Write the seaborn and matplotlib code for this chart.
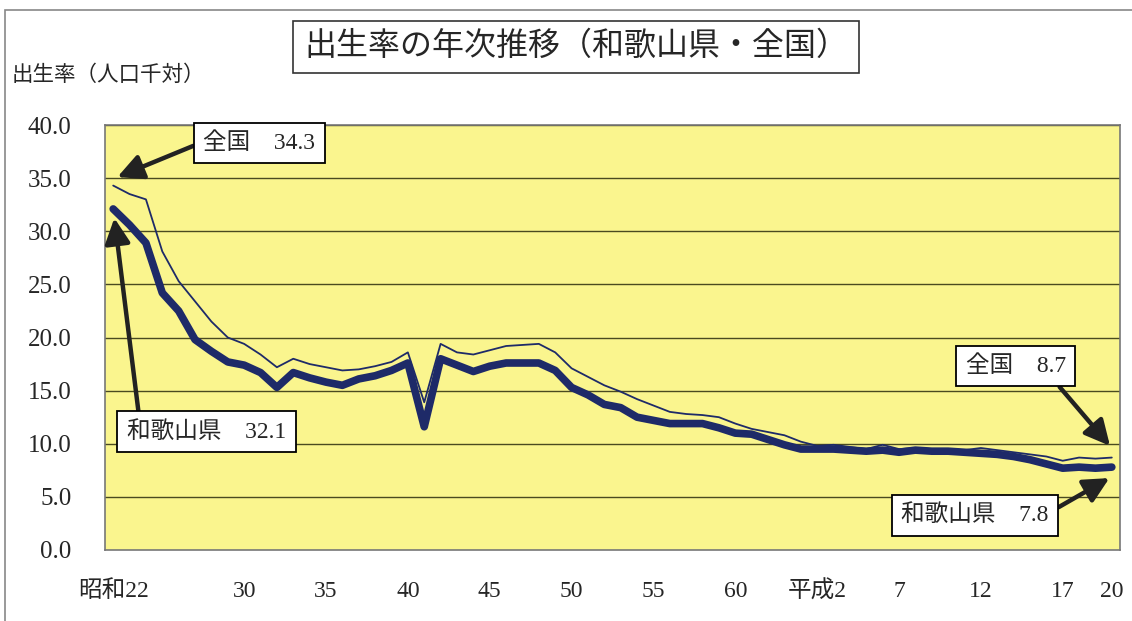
import matplotlib
matplotlib.use("Agg")
import matplotlib.pyplot as plt
import seaborn as sns
import pandas as pd
from matplotlib.patches import Rectangle

# data: birth rate per 1000 population, 1947 (昭和22) - 2008 (平成20)
years = list(range(1947, 2009))
national = [34.3, 33.5, 33.0, 28.1, 25.3, 23.4, 21.5, 20.0, 19.4, 18.4,
            17.2, 18.0, 17.5, 17.2, 16.9, 17.0, 17.3, 17.7, 18.6, 13.9,
            19.4, 18.6, 18.4, 18.8, 19.2, 19.3, 19.4, 18.6, 17.1, 16.3,
            15.5, 14.9, 14.2, 13.6, 13.0, 12.8, 12.7, 12.5, 11.9, 11.4,
            11.1, 10.8, 10.2, 9.8, 9.9, 9.7, 9.5, 9.9, 9.5, 9.6,
            9.5, 9.5, 9.4, 9.6, 9.4, 9.2, 9.0, 8.8, 8.4, 8.7,
            8.6, 8.7]
wakayama = [32.1, 30.6, 28.9, 24.2, 22.5, 19.8, 18.7, 17.7, 17.4, 16.7,
            15.3, 16.7, 16.2, 15.8, 15.5, 16.1, 16.4, 16.9, 17.6, 11.6,
            18.0, 17.4, 16.8, 17.3, 17.6, 17.6, 17.6, 16.9, 15.3, 14.6,
            13.7, 13.4, 12.5, 12.2, 11.9, 11.9, 11.9, 11.5, 11.0, 10.9,
            10.4, 9.9, 9.5, 9.5, 9.5, 9.4, 9.3, 9.4, 9.2, 9.4,
            9.3, 9.3, 9.2, 9.1, 9.0, 8.8, 8.5, 8.1, 7.7, 7.8,
            7.7, 7.8]

tick_years = [1947, 1955, 1960, 1965, 1970, 1975, 1980, 1985, 1990, 1995, 2000, 2005, 2008]
tick_labels = ["昭和22", "30", "35", "40", "45", "50", "55", "60", "平成2", "7", "12", "17", "20"]
y_ticks = [0, 5, 10, 15, 20, 25, 30, 35, 40]

title = "出生率の年次推移（和歌山県・全国）"
ylabel = "出生率（人口千対）"

sns.set_style("white")
plt.rcParams['font.family'] = ['Liberation Serif', 'Noto Sans CJK JP', 'DejaVu Sans']

df = pd.DataFrame({"idx": range(len(years)), "year": years,
                   "全国": national, "和歌山県": wakayama})

fig = plt.figure(figsize=(11.32, 6.21), dpi=100)
ax = fig.add_axes([105 / 1132, 1 - 550 / 621, 1015 / 1132, 425 / 621])
ax.set_facecolor("#FAF58E")

navy = "#1E2A68"
sns.lineplot(data=df, x="idx", y="全国", ax=ax, color=navy, linewidth=1.3)
sns.lineplot(data=df, x="idx", y="和歌山県", ax=ax, color=navy, linewidth=5.5)

ax.set_xlim(-0.5, len(years) - 0.5)
ax.set_ylim(0, 40)
ax.set_yticks(y_ticks)
ax.set_yticklabels([f"{v:.1f}" for v in y_ticks], fontsize=18)
for v in y_ticks[1:]:
    ax.axhline(v, color="#4a4a20", linewidth=1.0, zorder=1)

ax.set_xticks([years.index(y) for y in tick_years])
ax.set_xticklabels(tick_labels, fontsize=17)
ax.set_xticks([i - 0.5 for i in range(len(years) + 1)], minor=True)
ax.tick_params(axis="x", which="major", length=0, pad=22)
ax.tick_params(axis="x", which="minor", direction="in", length=7, width=0.8, color="#333333")
ax.tick_params(axis="y", length=0, pad=24)
ax.set_xlabel("")
ax.set_ylabel("")
for s in ax.spines.values():
    s.set_color("#777777")
    s.set_linewidth(1.2)

# labels with arrows
box = dict(boxstyle="square,pad=0.4", fc="white", ec="black", lw=1.3)


def arrow(rel):
    return dict(arrowstyle="-|>,head_length=0.9,head_width=0.45", color="#222222",
                lw=3.2, relpos=rel, shrinkA=0, shrinkB=2)


ax.annotate(f"全国　{national[0]}", xy=(0.1, national[0] + 0.7), xytext=(0.152, 0.958),
            textcoords="axes fraction", ha="center", va="center", fontsize=17,
            bbox=box, arrowprops=arrow((0, 0.55)))
ax.annotate(f"和歌山県　{wakayama[0]}", xy=(0.05, wakayama[0] - 0.6), xytext=(0.10, 0.278),
            textcoords="axes fraction", ha="center", va="center", fontsize=17,
            bbox=box, arrowprops=arrow((0.08, 1)))
ax.annotate(f"全国　{national[-1]}", xy=(len(years) - 1, national[-1] + 0.9), xytext=(0.8975, 0.433),
            textcoords="axes fraction", ha="center", va="center", fontsize=17,
            bbox=box, arrowprops=arrow((0.85, 0)))
ax.annotate(f"和歌山県　{wakayama[-1]}", xy=(len(years) - 1, wakayama[-1] - 0.9), xytext=(0.857, 0.082),
            textcoords="axes fraction", ha="center", va="center", fontsize=17,
            bbox=box, arrowprops=arrow((1, 0.6)))

fig.text(576 / 1132, 1 - 47 / 621, title, ha="center", va="center", fontsize=23,
         bbox=dict(boxstyle="square,pad=0.35", fc="white", ec="#333333", lw=1.2))
fig.text(12 / 1132, 1 - 76 / 621, ylabel, ha="left", va="center", fontsize=15.5)

fig.patches.append(Rectangle((5 / 1132, -0.01), 1.1, 1 - 10 / 621 + 0.01, transform=fig.transFigure,
                             fill=False, ec="#888888", lw=1.2))

fig.savefig("out.png", dpi=100)
